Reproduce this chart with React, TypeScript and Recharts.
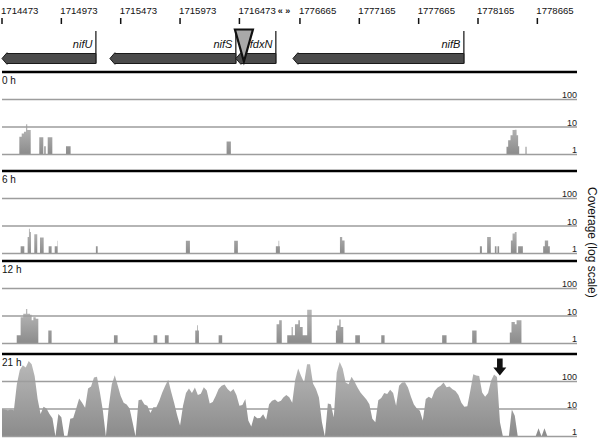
import React from 'react';
import { AreaChart, Area, ComposedChart, Line, XAxis, YAxis, ReferenceLine, ReferenceArea, ReferenceDot } from 'recharts';

// genome axis: two windows joined at a break
const leftStart = 1714473;
const rightAnchor = 1776665;
const rightAnchorPos = 2510;
const breakPos = 2376;
const axisMax = 4844;
const toAxis = (bp: number) => (bp < 1750000 ? bp - leftStart : bp - rightAnchor + rightAnchorPos);

const tickLabels = [1714473, 1714973, 1715473, 1715973, 1716473, 1776665, 1777165, 1777665, 1778165, 1778665];

// genes (all on the minus strand: tip on the left)
const geneNames = ['nifU', 'nifS', 'fdxN', 'nifB'];
const geneTips = [1714473, 1715382, 1716443, 1776606];
const geneEnds = [1715264, 1716443, 1716780, 1778046];

const insertionSite = 1716511;
const markerSite = 1778349;

const panelNames = ['0 h', '6 h', '12 h', '21 h'];
const scaleLabels = ['1', '10', '100'];

// [position, coverage] - coverage holds until the next position
const cov0h: [number, number][] = [
  [1714619, 4.4], [1714639, 5.8], [1714658, 6.7], [1714675, 12.6], [1714686, 7.7], [1714715, 0],
  [1714787, 4.2], [1714821, 0], [1714829, 2], [1714841, 0], [1714858, 4.2], [1714897, 0],
  [1715012, 2], [1715051, 0], [1716365, 3], [1716401, 0],
  [1778405, 1.9], [1778419, 3.3], [1778439, 5], [1778456, 7.7], [1778475, 8], [1778490, 5], [1778503, 2], [1778512, 0],
  [1778565, 1.9], [1778574, 0],
];

const cov6h: [number, number][] = [
  [1714630, 1.85], [1714661, 0], [1714689, 4], [1714700, 8], [1714708, 6], [1714717, 0],
  [1714745, 5], [1714770, 0], [1714793, 3.8], [1714824, 0], [1714866, 1.85], [1714891, 0],
  [1714917, 1.85], [1714939, 2.9], [1714942, 0], [1715264, 1.85], [1715279, 0],
  [1716022, 2.9], [1716056, 0], [1716429, 2.9], [1716460, 0],
  [1716780, 1.85], [1716803, 2.9], [1716808, 1.85], [1716814, 0],
  [1777002, 4], [1777021, 3], [1777041, 0], [1778181, 1.85], [1778198, 0], [1778242, 4], [1778273, 0],
  [1778307, 1.85], [1778321, 0], [1778329, 1.85], [1778343, 0],
  [1778442, 3], [1778456, 5.3], [1778475, 6.1], [1778490, 0], [1778503, 1.85], [1778543, 0],
  [1778714, 1.85], [1778728, 3], [1778756, 1.85], [1778770, 0],
];

const cov12h: [number, number][] = [
  [1714597, 2], [1714630, 9], [1714652, 12], [1714675, 18], [1714686, 12], [1714709, 11], [1714723, 7], [1714737, 9], [1714757, 8], [1714779, 0],
  [1714863, 3], [1714891, 0], [1715416, 2], [1715447, 0], [1715750, 2], [1715781, 0], [1715845, 2], [1715877, 0],
  [1716101, 3], [1716117, 4.6], [1716123, 3], [1716132, 0], [1716298, 2], [1716328, 0],
  [1716786, 5], [1716808, 7], [1716830, 0],
  [1776558, 2], [1776595, 4], [1776604, 2], [1776623, 5], [1776651, 7], [1776665, 4], [1776688, 2], [1776726, 17], [1776764, 0],
  [1776968, 3], [1776979, 4.5], [1776996, 7.5], [1777008, 4], [1777030, 0],
  [1777131, 2], [1777170, 0], [1777350, 2], [1777378, 0], [1777863, 2], [1777900, 0], [1778116, 3], [1778153, 0],
  [1778433, 2.5], [1778447, 6], [1778475, 5], [1778490, 7], [1778531, 0],
];

// 21 h: coverage every 25 bp from each window start
const binSize = 25;
const cov21hLeftStart = 1714473;
const cov21hLeft = [
  10, 9.5, 9, 9.5, 9, 80, 260, 390, 320, 560, 425, 160, 23, 6.6, 12, 10.5, 6.6, 4.6, 0, 6.6,
  5, 0, 0, 4.4, 4.7, 10.5, 24, 17, 11, 56, 66, 140, 150, 40, 8.7, 0, 13, 80, 170, 72,
  30, 17, 14.5, 10.5, 3.3, 0, 21, 22, 14.5, 13, 7.2, 11.5, 11.5, 20, 40, 70, 115, 42, 17, 6,
  2.5, 13, 38, 56, 38, 60, 32, 36, 62, 47, 16, 18, 30, 53, 70, 78, 53, 42, 53, 32,
  13, 14, 23, 3.8, 2.3, 5.7, 4.6, 4.7, 6.4, 4.1, 15, 20, 22, 18, 20,
];
const cov21hRightStart = 1776525;
const cov21hRight = [
  26, 32, 27, 17, 115, 300, 160, 92, 425, 425, 85, 53, 26, 3.4, 0, 16, 15, 5, 212, 513,
  300, 92, 80, 150, 97, 61, 40, 30, 22, 15, 4.4, 3.3, 21, 25, 38, 35, 50, 38, 13, 70,
  92, 94, 61, 28, 14.5, 10.5, 8.7, 3.8, 23, 28, 24, 46, 61, 70, 92, 62, 66, 52, 45, 32,
  17, 12, 12.5, 46, 185, 165, 160, 40, 28, 38, 106, 180, 145, 3.3, 0, 0, 0, 9.5, 5.7, 0,
  0, 0, 0, 0, 0, 0, 2, 0, 2, 0,
];

const lg = (c: number) => (c > 1 ? Math.log10(c) : 0);
const stepRows = (pts: [number, number][]) => pts.map(([bp, c]) => ({ u: toAxis(bp), v: lg(c) }));
const binRows = (start: number, vals: number[]) => vals.map((c, i) => ({ u: toAxis(start + i * binSize), v: lg(c) }));

const panelData = [
  stepRows(cov0h),
  stepRows(cov6h),
  stepRows(cov12h),
  [...binRows(cov21hLeftStart, cov21hLeft), ...binRows(cov21hRightStart, cov21hRight)],
];
const panelCurves: ('stepAfter' | 'linear')[] = ['stepAfter', 'stepAfter', 'stepAfter', 'linear'];

const W = 600;
const FONT = '"Liberation Sans", Arial, Helvetica, sans-serif';
const PLOT_H = 82.5;
const PAD = 4;
const panelTops = [71.8, 170.8, 260.8, 353.5];
const MARGIN = { top: PAD, right: 23, bottom: PAD, left: 2 };

const tickPositions = [...tickLabels.map(toAxis), breakPos].sort((a, b) => a - b);

function GenomeTick(props: any) {
  const { x, y, payload } = props;
  if (payload.value === breakPos) {
    return <text x={x} y={y - 2} textAnchor="middle" fontSize={9} fontWeight="bold" fill="#111">« »</text>;
  }
  const i = tickLabels.map(toAxis).indexOf(payload.value);
  return (
    <g>
      <text x={x - 1} y={y - 2} fontSize={9.6} fill="#111">{tickLabels[i]}</text>
      <line x1={x} x2={x} y1={y + 2} y2={y + 8} stroke="#111" strokeWidth={1.5} />
    </g>
  );
}

const geneShape = (name: string) => (p: any) => {
  const { x, y, width } = p;
  const top = y + 29.5;
  const bot = y + 39.5;
  const mid = (top + bot) / 2;
  return (
    <g>
      <line x1={x + width} x2={x + width} y1={y + 7} y2={bot} stroke="#111" strokeWidth={1.2} />
      <polygon
        points={`${x},${mid} ${x + 5},${top - 0.8} ${x + 5},${top} ${x + width},${top} ${x + width},${bot} ${x + 5},${bot} ${x + 5},${bot + 0.8}`}
        fill="#4b4b4b" stroke="#1a1a1a" strokeWidth={1}
      />
      <text x={x + width - 3.5} y={y + 24} textAnchor="end" fontSize={11} fontStyle="italic" fill="#111">{name}</text>
    </g>
  );
};

const insertionShape = (p: any) => {
  const { cx, cy } = p;
  return (
    <polygon points={`${cx - 9},${cy + 5.5} ${cx + 9},${cy + 5.5} ${cx},${cy + 37.5}`}
      fill="#a9a9a9" stroke="#111" strokeWidth={2.2} />
  );
};

const markerShape = (p: any) => {
  const { cx, cy } = p;
  return (
    <polygon
      points={`${cx - 2.8},${cy + 4.5} ${cx + 2.8},${cy + 4.5} ${cx + 2.8},${cy + 13.5} ${cx + 6.5},${cy + 13.5} ${cx},${cy + 21.5} ${cx - 6.5},${cy + 13.5} ${cx - 2.8},${cy + 13.5}`}
      fill="#111"
    />
  );
};

function Panel({ idx }: { idx: number }) {
  const id = `covFill${idx}`;
  return (
    <div style={{ position: 'absolute', left: 0, top: panelTops[idx] - PAD }}>
      <AreaChart width={W} height={PLOT_H + 2 * PAD} data={panelData[idx]} margin={MARGIN}>
        <defs>
          <linearGradient id={id} x1="0" y1="0" x2="0" y2="1">
            <stop offset="0%" stopColor="#b9b9b9" />
            <stop offset="100%" stopColor="#8b8b8b" />
          </linearGradient>
        </defs>
        <XAxis dataKey="u" type="number" domain={[0, axisMax]} hide allowDataOverflow />
        <YAxis type="number" domain={[0, 3]} hide />
        <Area type={panelCurves[idx]} dataKey="v" stroke="none" fill={`url(#${id})`} fillOpacity={1} isAnimationActive={false} />
        {scaleLabels.map((s, d) => (
          <ReferenceLine key={s} y={d} stroke="#9d9d9d" strokeWidth={1.5}
            label={(lp: any) => (
              <text x={lp.viewBox.x + lp.viewBox.width} y={lp.viewBox.y - 1.5} textAnchor="end" fontSize={9} fill="#222">{s}</text>
            )}
          />
        ))}
        <ReferenceLine y={3} stroke="#000" strokeWidth={2.5}
          label={(lp: any) => (
            <text x={lp.viewBox.x} y={lp.viewBox.y + 12} fontSize={10} fill="#111">{panelNames[idx]}</text>
          )}
        />
        {idx === 3 && <ReferenceDot x={toAxis(markerSite)} y={3} shape={markerShape} ifOverflow="visible" />}
      </AreaChart>
    </div>
  );
}

export default function App() {
  // one row per gene; "lane" keeps the track's y axis populated
  const geneRows = geneNames.map((n, i) => ({ u: toAxis(geneTips[i]), lane: 0.5, name: n }));
  return (
    <div style={{ position: 'absolute', left: 0, top: 0, width: W, height: 443, background: '#fff', fontFamily: FONT, overflow: 'hidden' }}>
      <div style={{ position: 'absolute', left: 0, top: 0 }}>
        <ComposedChart width={W} height={70} data={geneRows} margin={{ top: 0, right: 23, bottom: 0, left: 2 }}>
          <XAxis dataKey="u" type="number" orientation="top" domain={[0, axisMax]} ticks={tickPositions} interval={0}
            tick={(p: any) => <GenomeTick {...p} />} tickLine={false} axisLine={false} height={24} allowDataOverflow />
          <YAxis hide type="number" domain={[0, 1]} />
          <Line dataKey="lane" stroke="none" dot={false} activeDot={false} isAnimationActive={false} />
          {geneNames.map((n, i) => (
            <ReferenceArea key={n} x1={toAxis(geneTips[i])} x2={toAxis(geneEnds[i])} y1={0} y2={1}
              shape={geneShape(n)} ifOverflow="visible" />
          ))}
          <ReferenceDot x={toAxis(insertionSite)} y={1} shape={insertionShape} ifOverflow="visible" />
        </ComposedChart>
      </div>
      {panelNames.map((_, i) => <Panel key={i} idx={i} />)}
      <div style={{ position: 'absolute', left: 585, top: 187, writingMode: 'vertical-rl', fontSize: 12, lineHeight: '14px', color: '#111' }}>
        Coverage (log scale)
      </div>
    </div>
  );
}
